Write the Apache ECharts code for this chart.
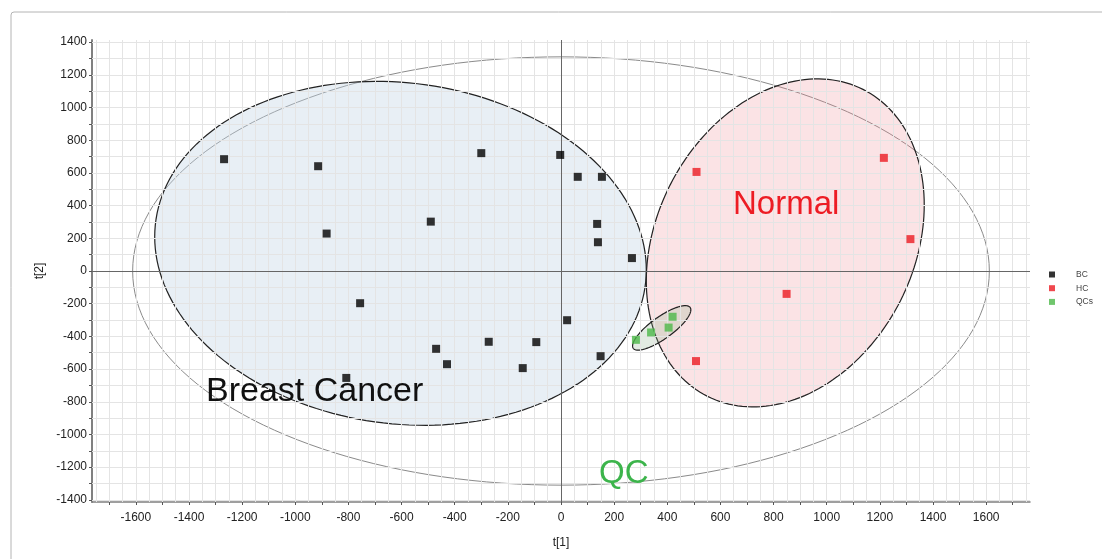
<!DOCTYPE html>
<html>
<head>
<meta charset="utf-8">
<script src="https://cdn.jsdelivr.net/npm/echarts@6/dist/echarts.min.js"></script>
<style>
html,body{margin:0;padding:0;background:#fff;}
#main{width:1102px;height:559px;}
</style>
</head>
<body>
<div id="main"></div>
<script>
// ---- Data (scores) ----
const bcX = [-1268, -914, -882, -490, -756, -808, -470, -429, -300, -272, -93, -144, -3, 63, 154, 136, 139, 267, 23, 149];
const bcY = [684, 641, 229, 302, -197, -654, -476, -570, 721, -433, -435, -594, 710, 576, 576, 288, 176, 79, -301, -521];
const hcX = [510, 1215, 1315, 849, 508];
const hcY = [606, 692, 195, -140, -551];
const qcX = [282, 339, 405, 420];
const qcY = [-421, -376, -346, -280];

// Ellipses: centre and two conjugate semi-axis vectors (data units)
const ellipseNames = ['T2', 'BC', 'HC', 'QC'];
const ellipseCX = [0, -604, 844, 379];
const ellipseCY = [0, 108, 172, -348];
const ellipseUX = [1612, 925, 523, 107];
const ellipseUY = [0, -101, 232, 125];
const ellipseVX = [0, 0, 0, 24];
const ellipseVY = [1310, 1047, 976, -54];

// Axis ranges and tick / label / grid values
const xRange = [-1765, 1765];
const yRange = [-1413, 1413];
const xLabels = [-1600, -1400, -1200, -1000, -800, -600, -400, -200, 0, 200, 400, 600, 800, 1000, 1200, 1400, 1600];
const xTicks = [-1700, -1600, -1500, -1400, -1300, -1200, -1100, -1000, -900, -800, -700, -600, -500, -400, -300, -200, -100, 0, 100, 200, 300, 400, 500, 600, 700, 800, 900, 1000, 1100, 1200, 1300, 1400, 1500, 1600, 1700];
const xGrid = [-1750, -1700, -1650, -1600, -1550, -1500, -1450, -1400, -1350, -1300, -1250, -1200, -1150, -1100, -1050, -1000, -950, -900, -850, -800, -750, -700, -650, -600, -550, -500, -450, -400, -350, -300, -250, -200, -150, -100, -50, 50, 100, 150, 200, 250, 300, 350, 400, 450, 500, 550, 600, 650, 700, 750, 800, 850, 900, 950, 1000, 1050, 1100, 1150, 1200, 1250, 1300, 1350, 1400, 1450, 1500, 1550, 1600, 1650, 1700, 1750];
const yLabels = [-1400, -1200, -1000, -800, -600, -400, -200, 0, 200, 400, 600, 800, 1000, 1200, 1400];
const yTicks = [-1400, -1300, -1200, -1100, -1000, -900, -800, -700, -600, -500, -400, -300, -200, -100, 0, 100, 200, 300, 400, 500, 600, 700, 800, 900, 1000, 1100, 1200, 1300, 1400];
const yGrid = [-1400, -1300, -1200, -1100, -1000, -900, -800, -700, -600, -500, -400, -300, -200, -100, 100, 200, 300, 400, 500, 600, 700, 800, 900, 1000, 1100, 1200, 1300, 1400];

const ellipseStyles = [
  {fill: 'none', stroke: '#8a8a8a', lineWidth: 1},
  {fill: 'rgba(195,212,230,0.38)', stroke: '#222', lineWidth: 1.2},
  {fill: 'rgba(240,140,148,0.24)', stroke: '#222', lineWidth: 1.2},
  {fill: 'rgba(140,175,140,0.25)', stroke: '#222', lineWidth: 1.2}
];

const FONT = 'Liberation Sans, Arial, sans-serif';
const chart = echarts.init(document.getElementById('main'));

const ellipseData = ellipseNames.map((n, i) => [ellipseCX[i], ellipseCY[i], ellipseUX[i], ellipseUY[i], ellipseVX[i], ellipseVY[i]]);
const zip = (a, b) => a.map((v, i) => [v, b[i]]);
const gridLines = xGrid.map(v => ({xAxis: v})).concat(yGrid.map(v => ({yAxis: v})));
const plain = v => String(Math.round(v));

chart.setOption({
  animation: false,
  backgroundColor: '#fff',
  textStyle: {fontFamily: FONT},
  grid: {left: 92, right: 72, top: 40, bottom: 57, containLabel: false},
  xAxis: {
    type: 'value', min: xRange[0], max: xRange[1],
    name: 't[1]', nameLocation: 'middle', nameGap: 35,
    nameTextStyle: {fontSize: 12, color: '#222', fontFamily: FONT},
    axisLine: {show: true, onZero: false, lineStyle: {color: '#808080', width: 1.5}},
    axisTick: {show: true, length: 3, customValues: xTicks, lineStyle: {color: '#555'}},
    axisLabel: {customValues: xLabels, formatter: plain, fontSize: 12, color: '#222', margin: 10, fontFamily: FONT},
    splitLine: {show: false}
  },
  yAxis: {
    type: 'value', min: yRange[0], max: yRange[1],
    name: 't[2]', nameLocation: 'middle', nameGap: 44,
    nameTextStyle: {fontSize: 12, color: '#222', fontFamily: FONT},
    axisLine: {show: true, onZero: false, lineStyle: {color: '#808080', width: 2}},
    axisTick: {show: true, length: 3, customValues: yTicks, lineStyle: {color: '#555'}},
    axisLabel: {customValues: yLabels, formatter: plain, fontSize: 12, color: '#222', margin: 5, fontFamily: FONT},
    splitLine: {show: false}
  },
  legend: {
    orient: 'vertical', left: 1044, top: 265,
    itemWidth: 6, itemHeight: 6, itemGap: 4.7,
    icon: 'rect',
    data: ['BC', 'HC', 'QCs'],
    textStyle: {fontSize: 8.5, color: '#444', fontFamily: FONT, padding: [0, 0, 0, 16]}
  },
  graphic: [
    {type: 'rect', silent: true, z: -10, shape: {x: 11, y: 12, width: 1120, height: 600, r: 3},
     style: {fill: 'none', stroke: '#b4b4b4', lineWidth: 1}},
    {type: 'text', left: 206, top: 375, z: 100,
     style: {text: 'Breast Cancer', font: '34px ' + FONT, fill: '#111'}},
    {type: 'text', left: 733, top: 188, z: 100,
     style: {text: 'Normal', font: '33px ' + FONT, fill: '#ed1c24'}},
    {type: 'text', left: 599, top: 457, z: 100,
     style: {text: 'QC', font: '33px ' + FONT, fill: '#3cb44b'}}
  ],
  series: [
    {
      type: 'scatter', name: 'grid', silent: true, z: 0, data: [],
      markLine: {
        silent: true, symbol: ['none', 'none'], label: {show: false}, animation: false,
        lineStyle: {color: '#e4e4e4', width: 1, type: 'solid'},
        emphasis: {disabled: true},
        data: gridLines
      }
    },
    {
      type: 'custom', name: 'ellipses', coordinateSystem: 'cartesian2d',
      silent: true, z: 1,
      data: ellipseData,
      renderItem: function (params, api) {
        const cx = api.value(0), cy = api.value(1);
        const ux = api.value(2), uy = api.value(3), vx = api.value(4), vy = api.value(5);
        const pts = [];
        const N = 180;
        for (let k = 0; k < N; k++) {
          const t = 2 * Math.PI * k / N;
          pts.push(api.coord([cx + ux * Math.cos(t) + vx * Math.sin(t), cy + uy * Math.cos(t) + vy * Math.sin(t)]));
        }
        const st = ellipseStyles[params.dataIndex];
        return {type: 'polygon', shape: {points: pts}, style: {fill: st.fill, stroke: st.stroke, lineWidth: st.lineWidth}};
      },
      markLine: {
        silent: true, symbol: ['none', 'none'], label: {show: false},
        lineStyle: {color: '#666', width: 1, type: 'solid'},
        emphasis: {disabled: true},
        data: [{yAxis: 0}, {xAxis: 0}]
      }
    },
    {type: 'scatter', name: 'BC', symbol: 'rect', symbolSize: 8, z: 5,
     itemStyle: {color: '#000'}, data: zip(bcX, bcY)},
    {type: 'scatter', name: 'HC', symbol: 'rect', symbolSize: 8, z: 5,
     itemStyle: {color: '#ec1a22'}, data: zip(hcX, hcY)},
    {type: 'scatter', name: 'QCs', symbol: 'rect', symbolSize: 8, z: 5,
     itemStyle: {color: '#4cb848'}, data: zip(qcX, qcY)}
  ]
});
</script>
</body>
</html>
